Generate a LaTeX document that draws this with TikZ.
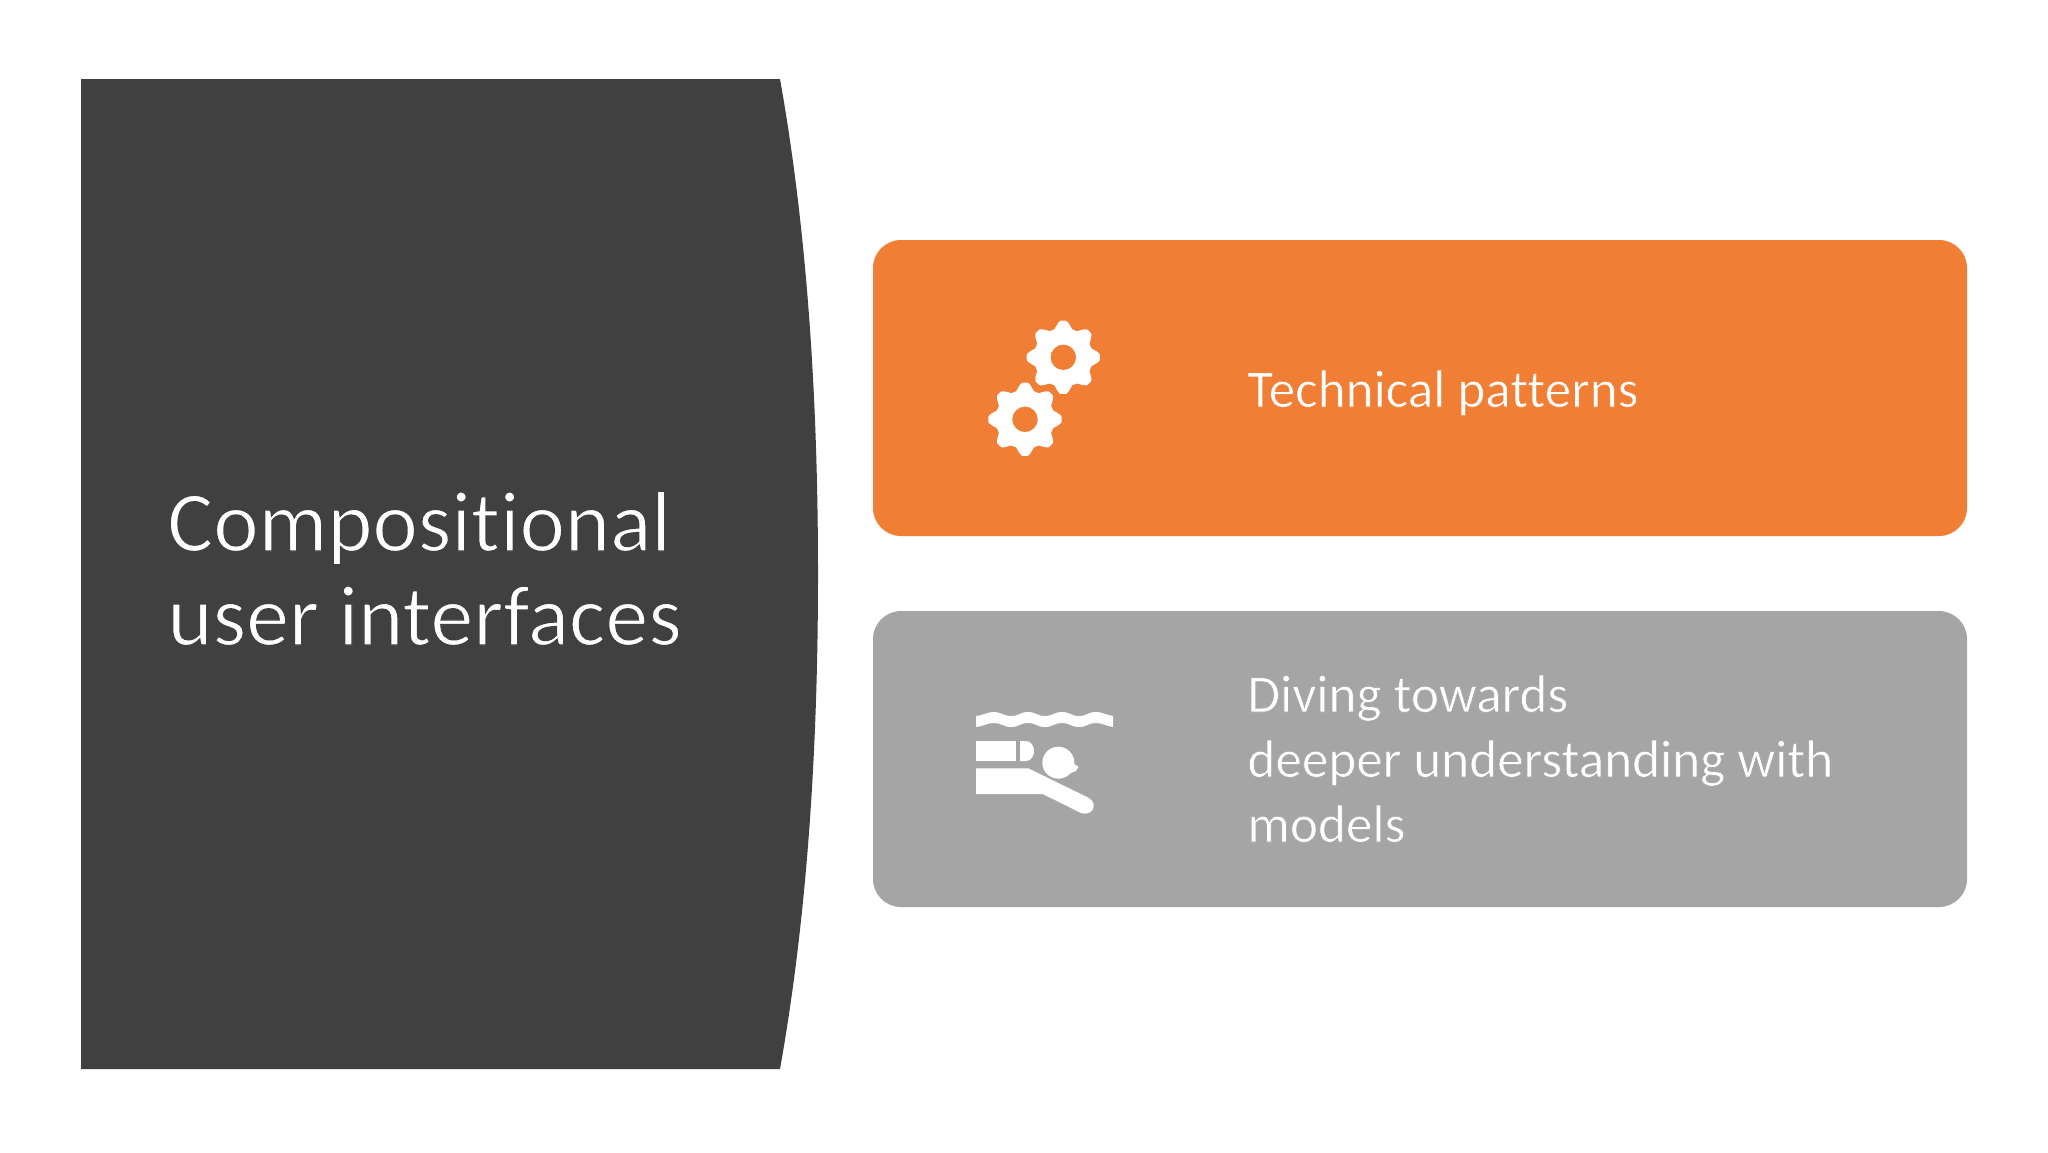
\documentclass[tikz,border=0pt]{standalone}
\usepackage{fontspec}
\setmainfont[Ligatures=NoCommon]{Carlito}
\definecolor{panel}{HTML}{404040}
\definecolor{orangebox}{HTML}{F07E35}
\definecolor{graybox}{HTML}{A5A5A6}
\newcommand{\thintext}[2]{\special{pdf:code q 2 Tr #1 w #2 RG}}
\newcommand{\thinend}{\special{pdf:code 0 Tr Q}}
\tikzset{
  box/.style={fill=#1,draw=none,rounded corners=14pt},
  title/.style={anchor=base west,inner sep=0pt,text=white,font=\fontsize{43}{43}\selectfont},
  body/.style={anchor=base west,inner sep=0pt,text=white,font=\fontsize{26.6}{27}\selectfont},
  icon/.style={fill=white,draw=none}
}
\newcommand{\gearpath}[2]{%
  plot[domain=0:360,samples=145,smooth,variable=\t]
  ({#1+(33+4.6*max(-0.8,min(0.8,cos(8*\t))))*cos(\t+90)},{#2+(33+4.6*max(-0.8,min(0.8,cos(8*\t))))*sin(\t+90)}) -- cycle
  (#1+12.8,#2) arc[start angle=0,end angle=360,radius=12.8] -- cycle}
\begin{document}
\begin{tikzpicture}[x=0.5pt,y=-0.5pt]
\useasboundingbox (0,0) rectangle (2048,1152);
\fill[white] (0,0) rectangle (2048,1152);
\fill[panel] (81,79) -- (780,79) .. controls (806,225) and (818,390) .. (818,574)
  .. controls (818,758) and (806,923) .. (780,1069) -- (81,1069) -- cycle;
\fill[box=orangebox] (873,240) rectangle (1967,536);
\fill[box=graybox] (873,611) rectangle (1967,907);
\node[title] (t1) at (167,551) {\thintext{0.7}{0.251 0.251 0.251}Compositional\thinend};
\node[title] (t2) at (167,645) {\thintext{0.7}{0.251 0.251 0.251}user interfaces\thinend};
\node[body] (b1) at (1247,407) {\thintext{0.3}{0.941 0.494 0.208}Technical patterns\thinend};
\node[body] (b2) at (1247,712) {\thintext{0.3}{0.647 0.647 0.651}Diving towards\thinend};
\node[body] (b3) at (1247,777) {\thintext{0.3}{0.647 0.647 0.651}deeper understanding with\thinend};
\node[body] (b4) at (1247,842) {\thintext{0.3}{0.647 0.647 0.651}models\thinend};
% gears
\fill[icon,even odd rule] \gearpath{1063.3}{357.3};
\fill[icon,even odd rule] \gearpath{1025}{419.3};
% swimmer
\fill[icon] (976,716) .. controls (984,715) and (988,712) .. (993,712)
  .. controls (1002,712) and (1003,716) .. (1011,716)
  .. controls (1019,716) and (1020,712) .. (1028,712)
  .. controls (1036,712) and (1037,716) .. (1045,716)
  .. controls (1053,716) and (1054,712) .. (1062,712)
  .. controls (1070,712) and (1071,716) .. (1079,716)
  .. controls (1087,716) and (1088,712) .. (1095,712)
  .. controls (1103,712) and (1106,715) .. (1113,716)
  -- (1113,727) .. controls (1106,726) and (1103,723) .. (1095,723)
  .. controls (1088,723) and (1087,727) .. (1079,727)
  .. controls (1071,727) and (1070,723) .. (1062,723)
  .. controls (1054,723) and (1053,727) .. (1045,727)
  .. controls (1037,727) and (1036,723) .. (1028,723)
  .. controls (1020,723) and (1019,727) .. (1011,727)
  .. controls (1003,727) and (1002,723) .. (993,723)
  .. controls (988,723) and (984,726) .. (976,727) -- cycle;
\fill[icon] (976,741) rectangle (1015.7,760.7);
\fill[icon] (1020,741) -- (1026,741) .. controls (1031,741) and (1034,746) .. (1034,751)
  .. controls (1034,756) and (1031,761) .. (1026,761) -- (1020,761) -- cycle;
\fill[icon] (1058.3,762.7) circle[radius=16];
\fill[icon] (1070,753) -- (1073,763) -- (1078.5,767) -- (1076,771) -- (1066,775) -- cycle;
\fill[icon] (976,768.3) -- (1028.3,768.3) -- (1088,797.5)
  .. controls (1094,801) and (1095,805) .. (1092.5,810)
  .. controls (1090,813.5) and (1085,814.5) .. (1081,813)
  -- (1042.7,794) -- (976,794) -- cycle;
\end{tikzpicture}
\end{document}
